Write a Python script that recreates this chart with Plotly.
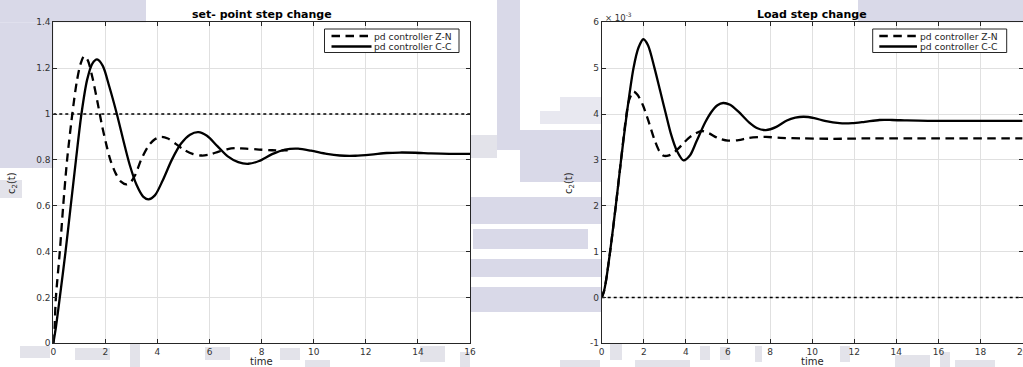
import plotly.graph_objects as go

W, H = 1023, 367

# ---------------- data ----------------
# Set-point step change
sp_cc_t = [0, 0.1, 0.25, 0.47, 0.67, 0.87, 1.08, 1.3, 1.5, 1.68, 1.9, 2.15, 2.44, 2.7, 2.93,
           3.2, 3.45, 3.65, 3.9, 4.2, 4.55, 4.9, 5.25, 5.57, 5.9, 6.3, 6.7, 7.1, 7.49, 7.9,
           8.4, 8.9, 9.4, 9.9, 10.5, 11.0, 11.6, 12.2, 12.8, 13.3, 13.9, 14.5, 15.2, 16]
sp_cc_v = [0, 0.07, 0.2, 0.4, 0.6, 0.8, 1.0, 1.15, 1.22, 1.238, 1.21, 1.12, 1.0, 0.88, 0.78,
           0.69, 0.64, 0.628, 0.645, 0.71, 0.8, 0.87, 0.91, 0.921, 0.905, 0.86, 0.815, 0.79, 0.783, 0.795,
           0.825, 0.845, 0.849, 0.84, 0.826, 0.819, 0.818, 0.823, 0.83, 0.832, 0.831, 0.828, 0.826, 0.826]

sp_zn_t = [0, 0.05, 0.1, 0.25, 0.38, 0.53, 0.73, 0.9, 1.05, 1.18, 1.32, 1.5, 1.7, 1.87, 2.05,
           2.19, 2.4, 2.6, 2.8, 2.95, 3.15, 3.37, 3.65, 3.9, 4.15, 4.4, 4.7, 5.0, 5.35, 5.7,
           6.0, 6.35, 6.7, 6.98, 7.4, 7.9, 8.4, 9.0]
sp_zn_v = [0, 0.08, 0.2, 0.4, 0.6, 0.8, 1.0, 1.14, 1.22, 1.252, 1.235, 1.16, 1.05, 0.95, 0.86,
           0.8, 0.74, 0.705, 0.693, 0.7, 0.735, 0.8, 0.86, 0.89, 0.9, 0.893, 0.87, 0.845, 0.826, 0.819,
           0.823, 0.836, 0.847, 0.851, 0.849, 0.845, 0.842, 0.841]

sp_ref_t = [0, 16]
sp_ref_v = [1, 1]

# Load step change (values in units of 1e-3)
ld_cc_t = [0, 0.1, 0.2, 0.4, 0.67, 0.92, 1.19, 1.51, 1.75, 1.98, 2.2, 2.51, 2.78, 3.05, 3.3,
           3.57, 3.89, 4.2, 4.5, 4.92, 5.22, 5.5, 5.77, 6.1, 6.5, 7.0, 7.4, 7.8, 8.3, 8.8,
           9.2, 9.6, 10.1, 10.6, 11.3, 11.9, 12.5, 13.2, 13.8, 14.5, 15.5, 17, 18.5, 20]
ld_cc_v = [0, 0.12, 0.35, 1.0, 2.0, 3.0, 4.0, 5.0, 5.45, 5.63, 5.5, 5.0, 4.5, 4.0, 3.55,
           3.2, 2.99, 3.1, 3.4, 3.82, 4.05, 4.19, 4.24, 4.2, 4.05, 3.82, 3.69, 3.65, 3.72, 3.86,
           3.92, 3.94, 3.91, 3.85, 3.8, 3.8, 3.83, 3.87, 3.87, 3.86, 3.85, 3.85, 3.85, 3.85]

ld_zn_t = [0, 0.1, 0.2, 0.4, 0.67, 0.92, 1.15, 1.3, 1.51, 1.7, 1.95, 2.22, 2.5, 2.75, 2.94,
           3.2, 3.45, 3.65, 3.9, 4.2, 4.44, 4.75, 5.1, 5.5, 6.0, 6.5, 7.0, 7.8, 8.5, 9.5,
           11, 13, 15, 17, 20]
ld_zn_v = [0, 0.12, 0.35, 1.0, 2.0, 3.0, 3.9, 4.3, 4.49, 4.42, 4.2, 3.85, 3.45, 3.18, 3.09,
           3.1, 3.17, 3.25, 3.37, 3.5, 3.57, 3.63, 3.58, 3.48, 3.42, 3.43, 3.48, 3.5, 3.48, 3.47,
           3.46, 3.47, 3.47, 3.47, 3.47]

ld_ref_t = [0, 20]
ld_ref_v = [0, 0]

scale_load = 1e-3
load_ticks = [-1, 0, 1, 2, 3, 4, 5, 6]

titles = ["set- point step change", "Load step change"]
legend_names = ["pd controller Z-N", "pd controller C-C"]
x_title = "time"
y_title = "c<sub>2</sub>(t)"

# ---------------- layout helpers ----------------
def px(x):
    return x / W

def py(y):
    return 1 - y / H

L1 = (53.3, 470.0)
L2 = (601.7, 1022.6)
YT, YB = 22.3, 343.3

INK = "#262626"
GRID = "#e0e0e0"
DASH = "8.5px,5.5px"
LW = 2.3
FONT = "DejaVu Sans, Liberation Sans, Arial"

fig = go.Figure()

def add(t, v, xa, ya, dash, name, shape="spline", width=LW):
    fig.add_trace(go.Scatter(
        x=t, y=v, xaxis=xa, yaxis=ya, mode="lines", name=name, showlegend=False,
        line=dict(color="black", width=width, dash=dash, shape=shape, smoothing=0.8),
        hoverinfo="x+y"))

add(sp_ref_t, sp_ref_v, "x", "y", "dot", "reference", shape="linear", width=1.6)
add(sp_zn_t, sp_zn_v, "x", "y", DASH, legend_names[0])
add(sp_cc_t, sp_cc_v, "x", "y", "solid", legend_names[1])

ld_scaled = lambda arr: [a * scale_load for a in arr]
add(ld_ref_t, ld_ref_v, "x2", "y2", "dot", "reference", shape="linear", width=1.6)
add(ld_zn_t, ld_scaled(ld_zn_v), "x2", "y2", DASH, legend_names[0])
add(ld_cc_t, ld_scaled(ld_cc_v), "x2", "y2", "solid", legend_names[1])

axis_common = dict(
    showline=True, linecolor=INK, linewidth=1, mirror="ticks",
    ticks="inside", ticklen=4, tickcolor=INK, tickwidth=1,
    showgrid=True, gridcolor=GRID, gridwidth=1, zeroline=False,
    tickfont=dict(family=FONT, size=9, color="#333333"),
    fixedrange=True, automargin=False, ticklabeloverflow="allow",
)

fig.update_layout(
    width=W, height=H, autosize=False,
    margin=dict(l=0, r=0, t=0, b=0, pad=0, autoexpand=False),
    paper_bgcolor="white", plot_bgcolor="white",
    showlegend=False,
    xaxis=dict(domain=[px(L1[0]), px(L1[1])], range=[0, 16], dtick=2, anchor="y", **axis_common),
    yaxis=dict(domain=[py(YB), py(YT)], range=[0, 1.4], dtick=0.2, anchor="x", **axis_common),
    xaxis2=dict(domain=[px(L2[0]), px(L2[1])], range=[0, 20], dtick=2, anchor="y2", **axis_common),
    yaxis2=dict(domain=[py(YB), py(YT)], range=[-1 * scale_load, 6 * scale_load],
                tickvals=[k * scale_load for k in load_ticks],
                ticktext=[str(k) for k in load_ticks], anchor="x2", **axis_common),
)

# ---------------- background watermark (decorative, kept outside plot areas) ----------------
LAV = "#d9d9e8"
GRY = "#e3e3ea"
PALE = "#e8e8f0"
wm = [
    (0, 0, 146, 22.3, LAV),
    (0, 22.3, 53.3, 168, LAV),
    (0, 180, 22, 198, GRY),
    (497, 0, 520, 150, LAV),
    (470, 135, 497, 158, GRY),
    (560, 97, 601.7, 111, PALE),
    (540, 111, 601.7, 124, PALE),
    (520, 130, 601.7, 182, LAV),
    (470, 197, 601.7, 224, LAV),
    (473, 229, 588, 249, LAV),
    (470, 259, 601.7, 277, LAV),
    (470, 287, 601.7, 312, LAV),
    (858, 0, 1023, 22.3, LAV),
    (20, 346, 50, 358, GRY), (75, 348, 110, 360, GRY), (130, 344, 140, 367, GRY),
    (205, 347, 230, 360, GRY), (280, 348, 300, 360, GRY), (305, 360, 330, 367, GRY),
    (420, 346, 445, 362, GRY), (460, 352, 470, 367, GRY), (560, 360, 600, 367, GRY),
    (610, 344, 622, 360, GRY), (635, 360, 690, 367, GRY), (700, 346, 710, 360, GRY),
    (720, 347, 730, 360, GRY), (755, 346, 762, 362, GRY), (840, 346, 850, 362, GRY),
    (895, 355, 930, 367, GRY), (940, 352, 950, 367, GRY), (955, 360, 995, 367, GRY),
]
for x0, y0, x1, y1, c in wm:
    fig.add_shape(type="rect", xref="paper", yref="paper", layer="below",
                  x0=px(x0), x1=px(x1), y0=py(y1), y1=py(y0),
                  fillcolor=c, line=dict(width=0))

# ---------------- titles and axis labels ----------------
for (a, b), ttl in zip((L1, L2), titles):
    cx = (a + b) / 2
    fig.add_annotation(text="<b>" + ttl + "</b>", xref="paper", yref="paper",
                       x=px(cx), y=py(14.5), xanchor="center", yanchor="middle",
                       showarrow=False, font=dict(family=FONT, size=11, color="black"))
    fig.add_annotation(text=x_title, xref="paper", yref="paper",
                       x=px(cx), y=0, xanchor="center", yanchor="bottom", yshift=-1,
                       borderpad=0,
                       showarrow=False, font=dict(family=FONT, size=10, color="#262626"))

for xc in (13, 570):
    fig.add_annotation(text=y_title, xref="paper", yref="paper",
                       x=px(xc), y=py(183), xanchor="center", yanchor="middle", textangle=-90,
                       showarrow=False, font=dict(family=FONT, size=10, color="#262626"))

fig.add_annotation(text="\u00d7 10<sup>-3</sup>", xref="paper", yref="paper",
                   x=px(603), y=py(17), xanchor="left", yanchor="middle",
                   showarrow=False, font=dict(family=FONT, size=8.5, color="#333333"))

# ---------------- legends (compact, MATLAB style) ----------------
def legend_box(x0, x1, y0, y1, lx0, lx1, tx):
    fig.add_shape(type="rect", xref="paper", yref="paper",
                  x0=px(x0), x1=px(x1), y0=py(y1), y1=py(y0),
                  fillcolor="white", line=dict(color=INK, width=1))
    for yy, dash, name in ((36, DASH, legend_names[0]), (46.5, "solid", legend_names[1])):
        fig.add_shape(type="line", xref="paper", yref="paper",
                      x0=px(lx0), x1=px(lx1), y0=py(yy), y1=py(yy),
                      line=dict(color="black", width=LW, dash=dash))
        fig.add_annotation(text=name, xref="paper", yref="paper",
                           x=px(tx), y=py(yy), xanchor="left", yanchor="middle",
                           showarrow=False, font=dict(family=FONT, size=9.2, color="#262626"))

legend_box(324.5, 459, 29, 52.5, 331.5, 371.5, 372)
legend_box(872.7, 1006.7, 29, 52.5, 879.3, 917, 917.5)

fig.write_html("out.html", post_script="document.body.style.margin='0px';")
